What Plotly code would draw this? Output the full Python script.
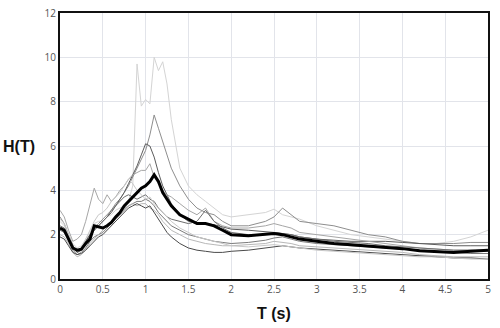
import plotly.graph_objects as go

T = [0,0.05,0.1,0.15,0.2,0.25,0.3,0.35,0.4,0.45,0.5,0.55,0.6,0.65,0.7,0.75,0.8,0.85,0.9,0.95,
     1.0,1.05,1.1,1.15,1.2,1.25,1.3,1.4,1.5,1.6,1.7,1.8,1.9,2.0,2.2,2.4,2.5,2.6,2.7,2.8,
     3.0,3.2,3.4,3.6,3.8,4.0,4.2,4.4,4.6,4.8,5.0]

rec_a = [2.6,2.4,2.0,1.6,1.4,1.5,1.8,2.1,2.5,2.6,2.6,2.8,2.9,3.1,3.2,3.3,3.5,4.2,9.7,7.8,
         8.1,7.9,10.0,9.4,9.8,8.8,7.2,5.0,4.2,3.8,3.5,3.2,2.9,2.8,2.9,3.0,3.15,2.9,2.8,2.7,
         2.4,2.2,2.0,1.9,1.8,1.7,1.6,1.6,1.7,1.9,2.2]
rec_b = [2.8,2.5,2.0,1.5,1.3,1.4,1.7,2.0,2.3,2.5,2.7,2.9,3.1,3.4,3.6,3.9,4.2,4.6,5.0,5.4,
         5.8,6.5,7.4,6.8,6.2,5.6,5.0,4.2,3.6,3.2,3.0,2.9,2.6,2.4,2.4,2.6,2.8,3.2,2.9,2.6,
         2.5,2.4,2.2,2.0,1.9,1.7,1.6,1.6,1.6,1.65,1.65]
rec_c = [2.3,2.2,1.9,1.5,1.2,1.3,1.7,2.0,2.2,2.4,2.6,2.8,3.0,3.3,3.6,3.9,4.3,4.7,5.1,5.6,
         6.1,6.0,5.5,4.8,4.2,3.8,3.4,2.9,2.6,2.5,2.5,2.45,2.35,2.25,2.2,2.15,2.1,2.05,2.0,1.9,
         1.8,1.75,1.7,1.7,1.7,1.65,1.6,1.55,1.5,1.5,1.5]
rec_d = [3.1,2.8,2.2,1.7,1.8,2.0,2.6,3.3,4.1,3.6,3.4,3.8,3.5,3.7,4.0,4.2,4.5,4.7,4.8,4.9,
         4.9,5.2,4.6,4.3,4.0,3.8,3.7,3.4,3.1,2.9,3.2,2.6,2.4,2.3,2.3,2.4,2.5,2.4,2.3,2.1,
         2.0,1.9,1.8,1.7,1.6,1.5,1.4,1.35,1.3,1.3,1.25]
rec_e = [2.2,2.1,1.8,1.3,1.1,1.2,1.4,1.7,1.9,2.0,2.1,2.3,2.5,2.7,2.9,3.1,3.3,3.4,3.5,3.5,
         3.6,3.5,3.3,3.0,2.8,2.6,2.4,2.2,2.0,1.9,1.8,1.7,1.65,1.6,1.65,1.75,1.85,1.9,1.8,1.7,
         1.6,1.55,1.5,1.45,1.4,1.35,1.3,1.25,1.2,1.15,1.15]
rec_f = [2.0,1.9,1.6,1.2,1.0,1.1,1.3,1.6,1.8,2.0,2.2,2.4,2.6,2.8,3.0,3.2,3.3,3.4,3.3,3.4,
         3.4,3.2,3.1,2.9,2.6,2.4,2.2,2.0,1.8,1.7,1.6,1.55,1.5,1.5,1.55,1.6,1.7,1.65,1.6,1.5,
         1.45,1.4,1.35,1.3,1.25,1.2,1.1,1.05,1.0,1.0,1.0]
rec_g = [1.9,1.8,1.5,1.2,1.1,1.15,1.3,1.5,1.7,1.9,2.0,2.2,2.4,2.6,2.8,3.0,3.2,3.3,3.4,3.3,
         3.2,3.3,3.0,2.7,2.4,2.1,1.9,1.6,1.4,1.3,1.25,1.2,1.2,1.25,1.3,1.4,1.45,1.5,1.45,1.4,
         1.35,1.3,1.25,1.2,1.15,1.1,1.05,1.0,0.95,0.95,0.9]
rec_h = [2.4,2.3,1.9,1.4,1.2,1.3,1.6,1.9,2.2,2.4,2.6,2.8,3.1,3.3,3.5,3.7,3.8,3.7,3.6,3.7,
         3.8,3.6,3.5,3.2,3.0,2.8,2.7,2.6,2.5,2.6,3.1,2.6,2.3,2.1,2.0,2.0,2.1,2.05,2.0,1.9,
         1.8,1.7,1.65,1.6,1.5,1.45,1.4,1.35,1.3,1.3,1.3]
rec_i = [2.7,2.5,2.0,1.5,1.3,1.4,1.8,2.2,2.6,2.9,3.0,3.2,3.5,3.7,3.9,4.2,4.5,4.3,4.0,3.8,
         3.6,3.7,3.4,3.2,3.0,2.8,2.6,2.3,2.1,1.9,1.8,1.7,1.6,1.5,1.45,1.5,1.55,1.5,1.45,1.4,
         1.3,1.25,1.2,1.15,1.1,1.05,1.0,1.0,0.95,0.9,0.9]
mean_h = [2.3,2.2,1.8,1.4,1.3,1.35,1.6,1.8,2.4,2.35,2.3,2.4,2.55,2.8,3.0,3.3,3.5,3.7,3.9,4.1,
          4.2,4.4,4.7,4.4,3.9,3.6,3.3,2.9,2.7,2.5,2.5,2.4,2.2,2.0,1.95,2.0,2.05,2.0,1.9,1.8,
          1.7,1.6,1.55,1.5,1.42,1.37,1.27,1.25,1.2,1.25,1.3]

records = [rec_a, rec_b, rec_c, rec_d, rec_e, rec_f, rec_g, rec_h, rec_i]
colors = ["#d4d4d4", "#8e8e8e", "#5c5c5c", "#a6a6a6", "#7a7a7a", "#b8b8b8", "#4a4a4a", "#6e6e6e", "#c8c8c8"]

x_ticks = [0, 0.5, 1, 1.5, 2, 2.5, 3, 3.5, 4, 4.5, 5]
x_labels = ["0", "0.5", "1", "1.5", "2", "2.5", "3", "3.5", "4", "4.5", "5"]
y_ticks = [0, 2, 4, 6, 8, 10, 12]

fig = go.Figure()
for r, c in zip(records, colors):
    fig.add_trace(go.Scatter(x=T, y=r, mode="lines", line=dict(color=c, width=1), showlegend=False))
fig.add_trace(go.Scatter(x=T, y=mean_h, mode="lines", line=dict(color="#000000", width=3), showlegend=False))

axis_common = dict(showgrid=True, gridcolor="#e2e4ea", gridwidth=1, showline=True, mirror=True,
                   linecolor="#111111", linewidth=2, zeroline=False, ticks="", automargin=False,
                   tickfont=dict(family="Open Sans", size=10, color="#555555"))
fig.update_xaxes(range=[0, 5], tickvals=x_ticks, ticktext=x_labels, **axis_common)
fig.update_yaxes(range=[0, 12], tickvals=y_ticks, **axis_common)

fig.add_annotation(text="<b>H(T)</b>", xref="paper", yref="paper", x=-0.096, y=0.5,
                   xanchor="center", yanchor="middle", showarrow=False,
                   font=dict(family="Arial", size=16, color="#111111"))
fig.add_annotation(text="<b>T (s)</b>", xref="paper", yref="paper", x=0.5, y=-0.128,
                   xanchor="center", yanchor="middle", showarrow=False,
                   font=dict(family="Arial", size=16, color="#111111"))

fig.update_layout(width=500, height=328, margin=dict(l=60, r=12, t=13, b=49, autoexpand=False),
                  paper_bgcolor="white", plot_bgcolor="white")
fig.write_html("out.html", config={"displayModeBar": False},
               post_script="document.body.style.margin='0';document.body.style.padding='0';"
                           "document.body.style.overflow='hidden';")
